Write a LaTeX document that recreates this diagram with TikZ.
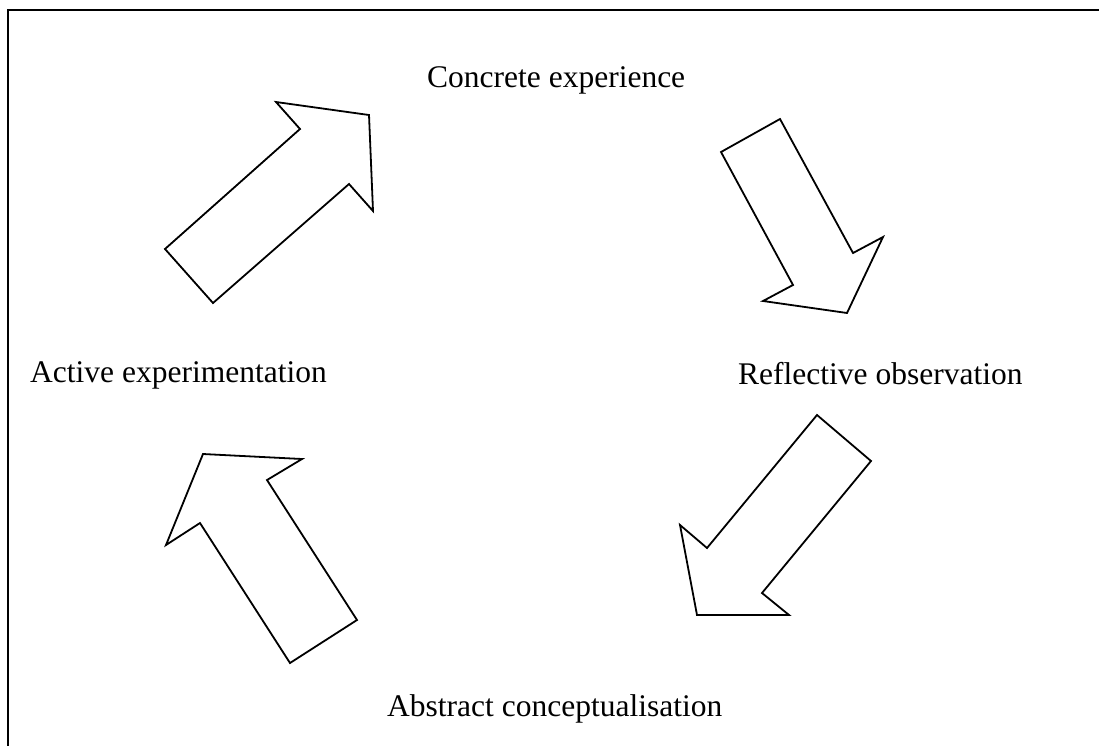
\documentclass[tikz,border=0pt]{standalone}
\usepackage{fontspec}
\setmainfont{Liberation Serif}
\begin{document}
\begin{tikzpicture}[x=1pt,y=-1pt,
  lbl/.style={anchor=base west,inner sep=0pt,font=\fontsize{31.5}{38}\selectfont},
  blockarrow/.style={draw=black,line width=1.8pt,line join=miter,fill=white}]
\useasboundingbox (0,0) rectangle (1099,745);
\clip (0,0) rectangle (1099,745);
% frame (right and bottom edges fall outside the picture)
\draw[line width=2.4pt] (8,10) rectangle (1115,760);
% arrows
\draw[blockarrow] (165,249) -- (213,303) -- (349,184) -- (373,211) -- (369,115) -- (276,102) -- (300,129) -- cycle;
\draw[blockarrow] (721,152) -- (780,119) -- (853,253) -- (883,237) -- (847,313) -- (763,301) -- (793,285) -- cycle;
\draw[blockarrow] (817,415) -- (871,461) -- (762,593) -- (789,615) -- (697,615) -- (680,525) -- (707,548) -- cycle;
\draw[blockarrow] (290,663) -- (357,620) -- (267,480) -- (302,459) -- (203,454) -- (166,545) -- (200,523) -- cycle;
% labels
\node[lbl] (ce) at (427,87) {Concrete experience};
\node[lbl] (ro) at (738,384) {Reflective observation};
\node[lbl] (ae) at (30,382) {Active experimentation};
\node[lbl] (ac) at (387,716) {Abstract conceptualisation};
\end{tikzpicture}
\end{document}
